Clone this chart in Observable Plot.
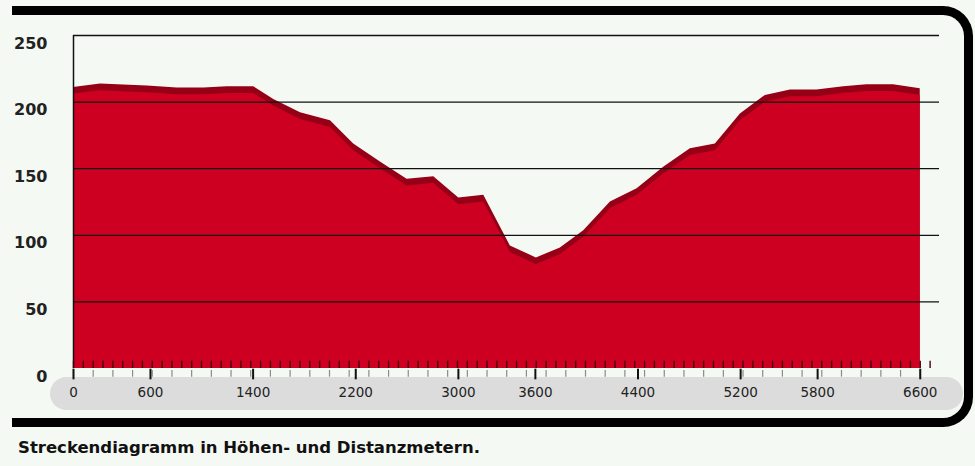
<!DOCTYPE html>
<html>
<head>
<meta charset="utf-8">
<script src="https://cdn.jsdelivr.net/npm/d3@7"></script>
<script src="https://cdn.jsdelivr.net/npm/@observablehq/plot@0.6"></script>
<style>
  html, body { margin: 0; padding: 0; background: #f4f9f3; }
  body { width: 975px; height: 466px; position: relative; overflow: hidden; font-family: "DejaVu Sans", sans-serif; }
  #frame { position: absolute; left: 12px; top: 6px; width: 952px; height: 403px;
           border-top: 9px solid #000; border-right: 9px solid #000; border-bottom: 9px solid #000;
           border-radius: 0 30px 30px 0; }
  #chart { position: absolute; left: 0; top: 0; }
  #caption { position: absolute; left: 18px; top: 440px; font-size: 16.5px; line-height: 16px; font-weight: bold; color: #111; white-space: nowrap; }
</style>
</head>
<body>
<div id="frame"></div>
<div id="chart"></div>
<div id="caption">Streckendiagramm in Höhen- und Distanzmetern.</div>
<script>
// Distance along the route (m)
const distance = [0, 210, 575, 808, 1016, 1198, 1405, 1561, 1769, 2003, 2184, 2392, 2600, 2808, 3003, 3198, 3405, 3608, 3795, 3977, 4185, 4393, 4600, 4808, 5003, 5198, 5393, 5588, 5795, 6003, 6184, 6392, 6600];
// Elevation (m)
const elevation = [211, 213.5, 212, 210.5, 210.5, 211.5, 211.5, 202, 192, 186, 168.5, 155, 142, 144, 128, 130, 92, 83, 90.5, 103.5, 125, 135, 151, 165, 168.5, 191, 205, 209, 209, 211.5, 213, 213, 210];
// Axis tick labels
const xTickLabels = [0, 600, 1400, 2200, 3000, 3600, 4400, 5200, 5800, 6600];
const yTickLabels = [0, 50, 100, 150, 200, 250];

const profile = distance.map((d, i) => ({distance: d, elevation: elevation[i]}));
const bandDepth = 5; // visual thickness of dark top band, in elevation units
const minorStep = 6600 / 86;
const minorTicks = d3.range(0, 6750, minorStep);
const lowerTicks = minorTicks.filter((d, i) => i % 2 === 0);

const plot = Plot.plot({
  width: 975,
  height: 432,
  marginLeft: 73,
  marginRight: 36,
  marginTop: 35,
  marginBottom: 64,
  style: {background: "transparent", fontFamily: "DejaVu Sans, sans-serif"},
  x: {domain: [0, 6750], label: null},
  y: {domain: [0, 250], label: null},
  marks: [
    Plot.areaY(profile, {x: "distance", y: "elevation", fill: "#960016", curve: "linear"}),
    Plot.areaY(profile, {x: "distance", y: d => d.elevation - bandDepth, fill: "#cd0021", curve: "linear"}),
    Plot.ruleY(yTickLabels.filter(d => d > 0), {x1: 0, x2: 6750, stroke: "#111", strokeWidth: 1.3}),
    Plot.ruleX([0], {y1: 0, y2: 250, stroke: "#111", strokeWidth: 1.5}),
    Plot.ruleX(minorTicks, {y1: 0, y2: 5.5, stroke: "#4a000c", strokeWidth: 1.4}),
    Plot.ruleX(lowerTicks, {y1: -1.5, y2: -6.5, stroke: "#8a8a8a", strokeWidth: 1.2}),
    Plot.ruleX(xTickLabels, {y1: -0.5, y2: -8.5, stroke: "#111", strokeWidth: 2}),
    Plot.axisX({ticks: xTickLabels, tickSize: 0, tickPadding: 19, fontSize: 13.5, tickFormat: d => String(d), fill: "#222"}),
    Plot.axisY({ticks: yTickLabels, tickSize: 0, tickPadding: 26, dy: 8, fontSize: 16, fontWeight: "bold", tickFormat: d => String(d), fill: "#222"})
  ]
});

// grey rounded band behind the distance labels (decoration)
const svg = d3.select(plot);
svg.insert("rect", ":first-child")
  .attr("x", 50).attr("y", 377).attr("width", 913).attr("height", 33)
  .attr("rx", 16.5).attr("fill", "#dcdcdc");

document.getElementById("chart").appendChild(plot);
</script>
</body>
</html>
